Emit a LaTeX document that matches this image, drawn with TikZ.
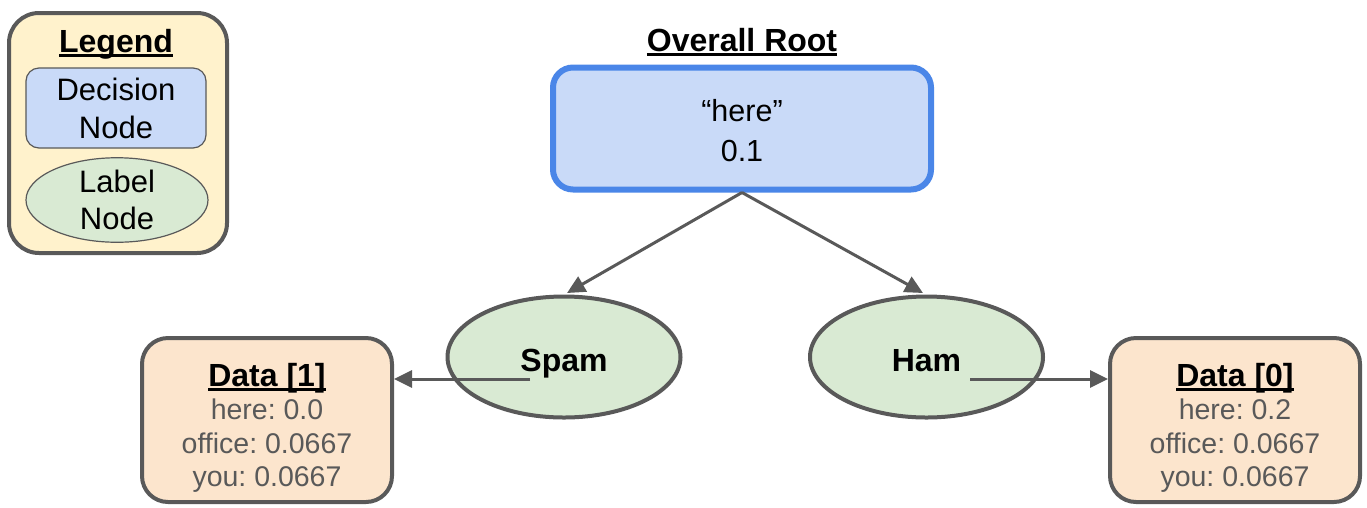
\documentclass[tikz,border=0pt]{standalone}
\usepackage{fontspec}
\setmainfont{Liberation Sans}
\frenchspacing
\usetikzlibrary{arrows.meta,shapes.geometric}
\definecolor{edgegray}{HTML}{595959}
\definecolor{legendfill}{HTML}{FFF2CC}
\definecolor{decfill}{HTML}{C9DAF8}
\definecolor{labfill}{HTML}{D9EAD3}
\definecolor{datafill}{HTML}{FCE5CD}
\definecolor{rootblue}{HTML}{4A86E8}
\newcommand\myul[1]{\setbox0\hbox{#1}\rlap{\rule[-4.5pt]{\wd0}{2.5pt}}\box0}
\tikzset{
  legendbox/.style={draw=edgegray,line width=4pt,fill=legendfill,rounded corners=30pt,minimum width=218pt,minimum height=240pt,inner sep=0pt},
  decbox/.style={draw=edgegray,line width=1.2pt,fill=decfill,rounded corners=13pt,minimum width=180pt,minimum height=80pt,inner sep=0pt,align=center,font=\fontsize{31}{38}\selectfont},
  labell/.style={ellipse,draw=edgegray,line width=1.2pt,fill=labfill,minimum width=182pt,minimum height=82pt,inner sep=0pt,align=center,font=\fontsize{31}{37}\selectfont},
  rootbox/.style={draw=rootblue,line width=6pt,fill=decfill,rounded corners=20pt,minimum width=378pt,minimum height=122pt,inner sep=0pt},
  roottext/.style={align=center,inner sep=0pt,font=\fontsize{30.5}{40}\selectfont},
  title/.style={inner sep=0pt,font=\fontsize{32}{38}\selectfont\bfseries},
  leaf/.style={ellipse,draw=edgegray,line width=4pt,fill=labfill,minimum width=233pt,minimum height=121pt,inner sep=0pt,text height=28pt,text depth=0pt,font=\fontsize{32}{38}\selectfont\bfseries},
  databox/.style={draw=edgegray,line width=4pt,fill=datafill,rounded corners=26pt,minimum width=250pt,minimum height=164pt,inner sep=0pt},
  datatext/.style={align=center,inner sep=0pt,text=edgegray,font=\fontsize{28.5}{33.5}\selectfont},
  conn/.style={draw=edgegray,line width=3pt,-{Triangle[length=18pt,width=17pt]}},
}
\begin{document}
\begin{tikzpicture}[x=1pt,y=-1pt]
\useasboundingbox (0,0) rectangle (1367,507);
% legend
\node[legendbox] (legend) at (118,133) {};
\node[title] (legendtitle) at (116,44) {\myul{Legend}};
\node[decbox] (legdec) at (116,108) {Decision\\Node};
\node[labell] (leglab) at (117,200) {Label\\Node};
% root
\node[title] (roottitle) at (742,42) {\myul{Overall Root}};
\node[rootbox] (root) at (742,128.5) {};
\node[roottext] (rootlabel) at (742,131) {“here”\\0.1};
% leaves
\node[leaf] (spam) at (564,357) {Spam};
\node[leaf] (ham) at (926.5,357) {Ham};
\node[databox] (data1) at (267,420) {};
\node[databox] (data0) at (1235,420) {};
\node[datatext] (data1text) at (267,428) {\textcolor{black}{\fontsize{32}{33}\selectfont\bfseries\myul{Data [1]}}\\here: 0.0\\office: 0.0667\\you: 0.0667};
\node[datatext] (data0text) at (1235,428) {\textcolor{black}{\fontsize{32}{33}\selectfont\bfseries\myul{Data [0]}}\\here: 0.2\\office: 0.0667\\you: 0.0667};
% connectors
\coordinate (spamtip) at (567,293);
\coordinate (hamtip) at (923,293);
\coordinate (spamstart) at (530,379);
\coordinate (hamstart) at (970,379);
\draw[conn] (root.south) -- (spamtip);
\draw[conn] (root.south) -- (hamtip);
\draw[conn] (spamstart) -- (data1.east |- spamstart);
\draw[conn] (hamstart) -- (data0.west |- hamstart);
\end{tikzpicture}
\end{document}
